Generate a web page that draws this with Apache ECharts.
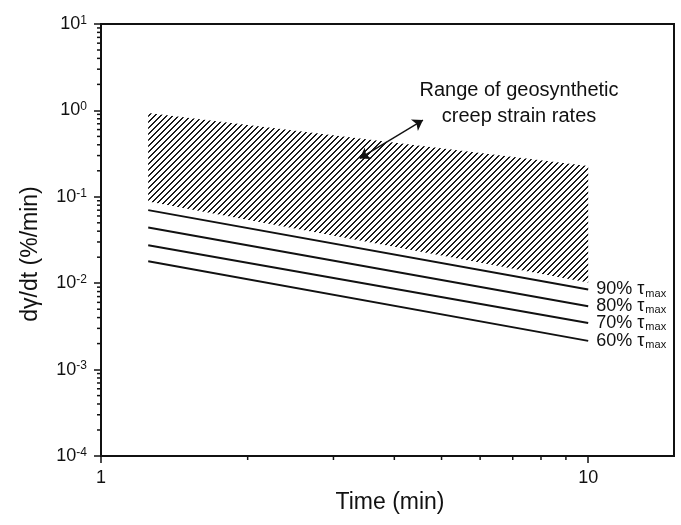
<!DOCTYPE html>
<html>
<head>
<meta charset="utf-8">
<script src="https://cdn.jsdelivr.net/npm/echarts@6/dist/echarts.min.js"></script>
<style>html,body{margin:0;padding:0;background:#fff;}#c{width:681px;height:525px;}</style>
</head>
<body>
<div id="c"></div>
<script>
// ---- data ----
var timeStart = 1.25, timeEnd = 10;
var lineNames = ['90%', '80%', '70%', '60%'];
var lineStart = [0.0701, 0.0442, 0.0275, 0.0180];
var lineEnd = [0.00845, 0.00542, 0.00347, 0.00215];
var hatchX = [1.25, 10];
var hatchTop = [0.93, 0.227];
var hatchBottom = [0.088, 0.0102];
var arrowFrom = [3.395, 0.278];
var arrowTo = [4.58, 0.773];
var xTickLabels = [1, 10];
var yTickLabels = [1e-4, 1e-3, 1e-2, 1e-1, 1, 10];
var xMinor = [2, 3, 4, 5, 6, 7, 8, 9];
var yMinorMult = [2, 3, 4, 5, 6, 7, 8, 9];
var yDecades = [1e-4, 1e-3, 1e-2, 1e-1, 1];

var FONT = 'Liberation Sans, Arial, sans-serif';

// hatch pattern (crisp "/" diagonals, 6px period)
var P = 6;
var pat = document.createElement('canvas');
pat.width = P; pat.height = P;
var pc = pat.getContext('2d');
pc.fillStyle = '#1a1a1a';
for (var r = 0; r < P; r++) {
  var cx = (P - 1 - r);
  pc.fillRect(cx, r, 1, 1);
  pc.fillRect((cx + 1) % P, r, 1, 1);
}

var yMinorData = [];
yDecades.forEach(function (d) { yMinorMult.forEach(function (m) { yMinorData.push([1, d * m]); }); });
var xMinorData = xMinor.map(function (v) { return [v, 1e-4]; });

var chart = echarts.init(document.getElementById('c'));

var series = [];
series.push({
  type: 'custom',
  silent: true,
  data: [[hatchX[0], hatchTop[0]]],
  renderItem: function (params, api) {
    var pts = [];
    for (var i = 0; i < hatchX.length; i++) pts.push(api.coord([hatchX[i], hatchTop[i]]));
    for (var j = hatchX.length - 1; j >= 0; j--) pts.push(api.coord([hatchX[j], hatchBottom[j]]));
    return { type: 'polygon', shape: { points: pts }, style: { fill: { image: pat, repeat: 'repeat' }, stroke: null } };
  },
  z: 1
});

lineNames.forEach(function (n, i) {
  var s = {
    type: 'line',
    data: [[timeStart, lineStart[i]], [timeEnd, lineEnd[i]]],
    showSymbol: false,
    symbol: 'none',
    lineStyle: { color: '#111', width: 2 },
    endLabel: {
      show: true,
      distance: 8,
      formatter: '{a|' + n + ' }{t|τ}{s|max}',
      rich: {
        a: { fontSize: 18, fontFamily: FONT, color: '#111' },
        t: { fontSize: 18, fontFamily: FONT, color: '#111' },
        s: { fontSize: 11, fontFamily: FONT, color: '#111', verticalAlign: 'bottom', padding: [8, 0, 0, 1] }
      }
    },
    z: 3
  };
  if (i === 0) {
    s.markLine = {
      silent: true,
      symbol: ['arrow', 'arrow'],
      symbolSize: 10,
      label: { show: false },
      lineStyle: { color: '#111', width: 1.4, type: 'solid' },
      data: [[{ coord: arrowFrom }, { coord: arrowTo }]]
    };
  }
  series.push(s);
});

series.push({
  type: 'custom', silent: true, clip: false, data: yMinorData,
  renderItem: function (params, api) {
    var p = api.coord([1, api.value(1)]);
    return { type: 'line', shape: { x1: p[0], y1: p[1], x2: p[0] - 4, y2: p[1] }, style: { stroke: '#111', lineWidth: 1.5 } };
  }
});
series.push({
  type: 'custom', silent: true, clip: false, data: xMinorData,
  renderItem: function (params, api) {
    var p = api.coord([api.value(0), 1e-4]);
    return { type: 'line', shape: { x1: p[0], y1: p[1], x2: p[0], y2: p[1] + 4 }, style: { stroke: '#111', lineWidth: 1.5 } };
  }
});

function expLabel(v) {
  var e = Math.round(Math.log10(v));
  return '{b|10}{s|' + e + '}';
}

chart.setOption({
  animation: false,
  backgroundColor: '#fff',
  grid: { left: 101, right: 7, top: 24, bottom: 69, show: true, borderColor: '#111', borderWidth: 2, backgroundColor: 'transparent' },
  xAxis: {
    type: 'log', logBase: 10, min: 1, max: 15,
    axisLine: { show: true, lineStyle: { color: '#111', width: 2 } },
    axisTick: { show: true, length: 7, inside: false, lineStyle: { color: '#111', width: 1.5 }, customValues: xTickLabels },
    axisLabel: { customValues: xTickLabels, margin: 13, fontSize: 18, fontFamily: FONT, color: '#111', formatter: function (v) { return String(Math.round(v)); } },
    splitLine: { show: false },
    minorTick: { show: false }
  },
  yAxis: {
    type: 'log', logBase: 10, min: 1e-4, max: 10,
    axisLine: { show: true, lineStyle: { color: '#111', width: 2 } },
    axisTick: { show: true, length: 7, inside: false, lineStyle: { color: '#111', width: 1.5 }, customValues: yTickLabels },
    axisLabel: {
      customValues: yTickLabels, margin: 14, color: '#111',
      formatter: expLabel,
      rich: {
        b: { fontSize: 18, fontFamily: FONT, color: '#111', lineHeight: 19 },
        s: { fontSize: 12, fontFamily: FONT, color: '#111', lineHeight: 10, verticalAlign: 'top' }
      }
    },
    splitLine: { show: false },
    minorTick: { show: false }
  },
  graphic: [
    { type: 'text', x: 390, y: 503, style: { text: 'Time (min)', font: '23px ' + FONT, fill: '#111', align: 'center', verticalAlign: 'middle' } },
    { type: 'text', x: 31, y: 254, rotation: Math.PI / 2, style: { text: 'dγ/dt (%/min)', font: '23px ' + FONT, fill: '#111', align: 'center', verticalAlign: 'middle' } },
    { type: 'text', x: 519, y: 103, style: { text: 'Range of geosynthetic\ncreep strain rates', font: '20px ' + FONT, lineHeight: 26, fill: '#111', align: 'center', verticalAlign: 'middle' } }
  ],
  series: series
});
</script>
</body>
</html>
